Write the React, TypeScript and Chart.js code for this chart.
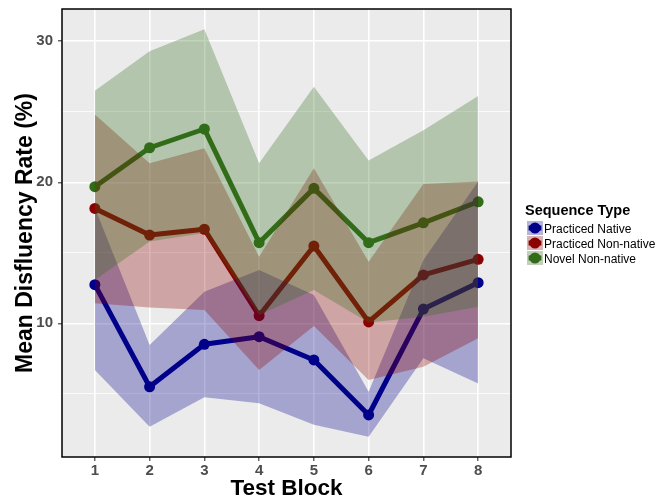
import React, { useEffect, useRef } from "react";
import { Chart, registerables } from "chart.js";
Chart.register(...registerables);

const testBlocks = [1, 2, 3, 4, 5, 6, 7, 8];
const yTickValues = [5, 10, 15, 20, 25, 30];
const seriesNames = ["Practiced Native", "Practiced Non-native", "Novel Non-native"];
const legendTitle = "Sequence Type";
const xTitle = "Test Block";
const yTitle = "Mean Disfluency Rate (%)";

const nativeMean = [12.74, 5.5, 8.51, 9.05, 7.4, 3.5, 11.01, 12.88];
const nativeUpper = [18.2, 8.46, 12.24, 13.78, 12.0, 5.15, 14.49, 20.05];
const nativeLower = [6.69, 2.67, 4.75, 4.33, 2.8, 1.96, 7.52, 5.74];

const nonNativeMean = [18.15, 16.26, 16.67, 10.54, 15.48, 10.1, 13.43, 14.54];
const nonNativeUpper = [24.8, 21.35, 22.41, 14.72, 21.0, 14.37, 19.88, 20.05];
const nonNativeLower = [11.42, 11.13, 10.94, 6.69, 9.81, 5.98, 6.92, 8.94];

const novelMean = [19.69, 22.45, 23.78, 15.72, 19.57, 15.72, 17.13, 18.62];
const novelUpper = [26.5, 29.3, 30.85, 21.35, 26.78, 21.55, 23.7, 26.12];
const novelLower = [13.07, 15.8, 16.4, 10.59, 12.36, 10.05, 10.47, 11.18];

const rgb = [
  [0, 0, 139],
  [139, 0, 0],
  [50, 108, 25],
];
const solid = (c: number[]) => `rgb(${c[0]},${c[1]},${c[2]})`;
const alpha = (c: number[], a: number) => `rgba(${c[0]},${c[1]},${c[2]},${a})`;

const FONT = "'Liberation Sans', Arial, Helvetica, sans-serif";

const pts = (arr: number[]) => testBlocks.map((x, i) => ({ x, y: arr[i] }));

export default function App() {
  const ref = useRef<HTMLCanvasElement | null>(null);
  useEffect(() => {
    if (!ref.current) return;
    Chart.defaults.font.family = FONT;
    const means = [nativeMean, nonNativeMean, novelMean];
    const uppers = [nativeUpper, nonNativeUpper, novelUpper];
    const lowers = [nativeLower, nonNativeLower, novelLower];

    const datasets: any[] = [];
    means.forEach((m, i) => {
      datasets.push({
        label: seriesNames[i],
        data: pts(m),
        borderColor: solid(rgb[i]),
        backgroundColor: solid(rgb[i]),
        pointBackgroundColor: solid(rgb[i]),
        pointBorderWidth: 0,
        pointRadius: 5.5,
        borderWidth: 5,
        borderJoinStyle: "round",
        borderCapStyle: "round",
        fill: false,
        order: 10,
      });
    });
    const ribbonOrder = [3, 2, 1];
    means.forEach((_, i) => {
      const upIdx = datasets.length;
      datasets.push({
        label: seriesNames[i] + " upper",
        data: pts(uppers[i]),
        borderColor: "rgba(0,0,0,0)",
        borderWidth: 0,
        pointRadius: 0,
        backgroundColor: alpha(rgb[i], 0.3),
        fill: upIdx + 1,
        order: ribbonOrder[i],
      });
      datasets.push({
        label: seriesNames[i] + " lower",
        data: pts(lowers[i]),
        borderColor: "rgba(0,0,0,0)",
        borderWidth: 0,
        pointRadius: 0,
        fill: false,
        order: ribbonOrder[i],
      });
    });

    const panelPlugin = {
      id: "panel",
      beforeDraw(chart: any) {
        const { ctx, chartArea: a } = chart;
        ctx.save();
        ctx.fillStyle = "#EBEBEB";
        ctx.fillRect(a.left, a.top, a.right - a.left, a.bottom - a.top);
        ctx.restore();
      },
      afterDraw(chart: any) {
        const { ctx, chartArea: a } = chart;
        ctx.save();
        ctx.strokeStyle = "#000";
        ctx.lineWidth = 1.5;
        ctx.strokeRect(a.left, a.top, a.right - a.left, a.bottom - a.top);
        // legend
        ctx.fillStyle = "#000";
        ctx.textBaseline = "alphabetic";
        ctx.textAlign = "left";
        ctx.font = `bold 14.5px ${FONT}`;
        ctx.fillText(legendTitle, 525, 214.5);
        ctx.font = `12px ${FONT}`;
        seriesNames.forEach((name, i) => {
          const cy = 228 + i * 15;
          const kx = 527;
          const kw = 16;
          const kh = 14;
          ctx.fillStyle = "#F2F2F2";
          ctx.fillRect(kx, cy - kh / 2, kw, kh);
          ctx.strokeStyle = solid(rgb[i]);
          ctx.lineWidth = 5;
          ctx.lineCap = "butt";
          ctx.beginPath();
          ctx.moveTo(kx + 1.6, cy);
          ctx.lineTo(kx + kw - 1.6, cy);
          ctx.stroke();
          ctx.fillStyle = solid(rgb[i]);
          ctx.beginPath();
          ctx.arc(kx + kw / 2, cy, 5.5, 0, Math.PI * 2);
          ctx.fill();
          ctx.fillStyle = alpha(rgb[i], 0.25);
          ctx.fillRect(kx, cy - kh / 2, kw, kh);
          ctx.fillStyle = "#000";
          ctx.fillText(name, 544, cy + 4.5);
        });
        ctx.restore();
      },
    };

    const chart = new Chart(ref.current, {
      type: "line",
      data: { datasets },
      plugins: [panelPlugin],
      options: {
        animation: false,
        responsive: false,
        events: [],
        layout: { padding: { left: 0, top: 9, right: 144, bottom: 0 } },
        plugins: {
          legend: { display: false },
          tooltip: { enabled: false },
        },
        elements: { line: { tension: 0 } },
        scales: {
          x: {
            type: "linear",
            min: 0.4,
            max: 8.6,
            afterBuildTicks: (s: any) => {
              s.ticks = testBlocks.map((v) => ({ value: v }));
            },
            afterFit: (s: any) => {
              s.height = 43;
              s.paddingLeft = 0;
              s.paddingRight = 0;
            },
            ticks: {
              autoSkip: false,
              maxRotation: 0,
              padding: 1,
              color: "#4D4D4D",
              font: { size: 15, weight: "bold" },
              callback: (v: any) => String(v),
            },
            grid: {
              color: "#FFFFFF",
              lineWidth: 1.6,
              tickLength: 4,
              tickColor: "#333333",
              tickWidth: 1.1,
            },
            border: { display: false },
            title: {
              display: true,
              text: xTitle,
              color: "#000",
              font: { size: 22.5, weight: "bold", lineHeight: 1 },
              padding: { top: 0, bottom: 0 },
            },
          },
          y: {
            type: "linear",
            min: 0.52,
            max: 32.29,
            afterBuildTicks: (s: any) => {
              s.ticks = yTickValues.map((v) => ({ value: v }));
            },
            afterFit: (s: any) => {
              s.width = 62;
              s.paddingTop = 0;
              s.paddingBottom = 0;
            },
            ticks: {
              padding: 5,
              color: "#4D4D4D",
              font: { size: 15, weight: "bold" },
              callback: (v: any) => (v % 10 === 0 ? String(v) : ""),
            },
            grid: {
              color: "#FFFFFF",
              lineWidth: (c: any) => (c.tick && c.tick.value % 10 === 0 ? 1.6 : 0.8),
              tickLength: 4,
              tickColor: (c: any) => (c.tick && c.tick.value % 10 === 0 ? "#333333" : "rgba(0,0,0,0)"),
              tickWidth: 1.1,
            },
            border: { display: false },
            title: {
              display: true,
              text: yTitle,
              color: "#000",
              font: { size: 23, weight: "bold", lineHeight: 1.2 },
              padding: { top: 12, bottom: 0 },
            },
          },
        },
      } as any,
    });
    return () => chart.destroy();
  }, []);
  return (
    <div style={{ position: "absolute", left: 0, top: 0, width: 655, height: 500, background: "#fff" }}>
      <canvas ref={ref} width={655} height={500} style={{ display: "block" }} />
    </div>
  );
}
